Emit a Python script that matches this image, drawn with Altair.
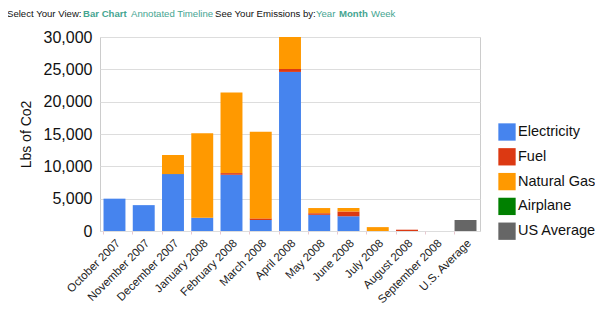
import altair as alt
import pandas as pd

months = ["October 2007", "November 2007", "December 2007", "January 2008",
          "February 2008", "March 2008", "April 2008", "May 2008", "June 2008",
          "July 2008", "August 2008", "September 2008", "U.S. Average"]
electricity = [5000, 4000, 8800, 2050, 8700, 1700, 24600, 2500, 2300, 0, 0, 0, 0]
fuel = [0, 0, 0, 0, 250, 250, 450, 250, 700, 0, 200, 0, 0]
natural_gas = [0, 0, 2950, 13050, 12450, 13400, 4950, 800, 550, 600, 0, 0, 0]
airplane = [0] * 13
us_average = [0] * 12 + [1700]

series_names = ["Electricity", "Fuel", "Natural Gas", "Airplane", "US Average"]
series_colors = ["#4684EE", "#DC3912", "#FF9900", "#008000", "#666666"]
series_values = [electricity, fuel, natural_gas, airplane, us_average]

rows = []
for si, (name, vals) in enumerate(zip(series_names, series_values)):
    for m, v in zip(months, vals):
        rows.append({"month": m, "series": name, "value": v, "order": si})
df = pd.DataFrame(rows)

FONT = "Liberation Sans"
TEAL = "#45a591"

bars = alt.Chart(df).mark_bar(clip=True).encode(
    x=alt.X("month:N", sort=months,
            scale=alt.Scale(paddingInner=0.25, paddingOuter=0.12),
            axis=alt.Axis(title=None, labelAngle=-45, labelFontSize=11.5,
                          labelFont=FONT, labelColor="#222", domain=False,
                          ticks=True, tickColor="#e8c8d0", tickSize=3,
                          bandPosition=0, labelPadding=3, grid=False)),
    y=alt.Y("value:Q", stack="zero",
            scale=alt.Scale(domain=[0, 30000], nice=False),
            axis=alt.Axis(title="Lbs of Co2", values=[0, 5000, 10000, 15000, 20000, 25000, 30000],
                          format=",.0f", labelFontSize=16, labelFont=FONT, labelColor="#111",
                          titleFontSize=14, titleFont=FONT, titleFontWeight="normal",
                          titleColor="#111", titlePadding=10, domain=False, ticks=False,
                          labelPadding=8, gridColor="#dddddd")),
    color=alt.Color("series:N",
                    scale=alt.Scale(domain=series_names, range=series_colors),
                    legend=alt.Legend(title=None, orient="none", legendX=398, legendY=86,
                                      symbolType="square", symbolSize=300,
                                      symbolStrokeWidth=0, symbolOpacity=1,
                                      labelFontSize=14.5, labelFont=FONT, labelColor="#111",
                                      rowPadding=6.8, labelOffset=2, labelLimit=200)),
    order=alt.Order("order:Q"),
)

def header(text, x, color="#111", weight="normal"):
    return alt.Chart(pd.DataFrame({"t": [text]})).mark_text(
        align="left", baseline="middle", fontSize=9.6, font=FONT,
        color=color, fontWeight=weight
    ).encode(text="t:N", x=alt.value(x), y=alt.value(-23))

hdr = [
    header("Select Your View:", -93),
    header("Bar Chart", -17, TEAL, "bold"),
    header("Annotated Timeline", 31, TEAL),
    header("See Your Emissions by:", 115),
    header("Year", 216, TEAL),
    header("Month", 239, TEAL, "bold"),
    header("Week", 271, TEAL),
]

chart = alt.layer(bars, *hdr).properties(
    width=380, height=194,
    autosize=alt.AutoSizeParams(type="none"),
    padding={"left": 92, "top": 29, "right": 115, "bottom": 79},
).configure_view(stroke="#cccccc")

chart.save("out.html", embed_options={"renderer": "svg", "actions": False})
